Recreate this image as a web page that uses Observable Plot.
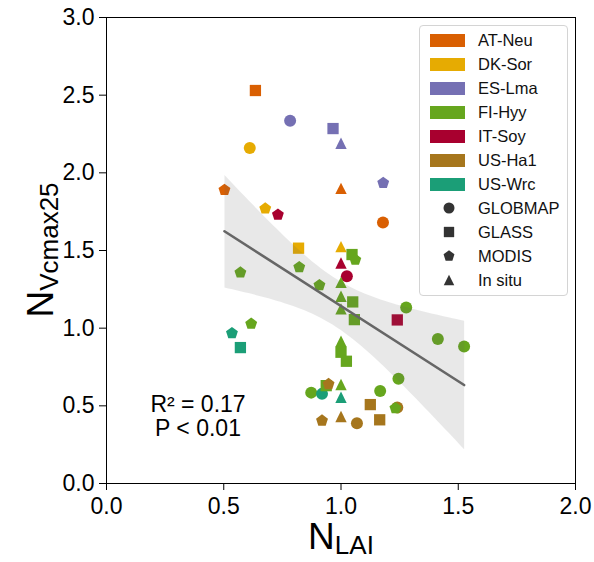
<!DOCTYPE html>
<html><head><meta charset="utf-8">
<script src="https://cdn.jsdelivr.net/npm/d3@7"></script>
<script src="https://cdn.jsdelivr.net/npm/@observablehq/plot@0.6"></script>
<style>
body{margin:0;background:#fff;font-family:"Liberation Sans",Arial,sans-serif;}
#wrap{position:relative;width:594px;height:562px;}
#legend{position:absolute;left:419px;top:25px;width:149px;height:271px;box-sizing:border-box;border:1px solid #d4d4d4;border-radius:4px;background:rgba(255,255,255,0.85);}
.patch{position:absolute;left:10px;width:35px;height:13px;}
.lsym{position:absolute;left:22px;width:14px;height:14px;}
.ltext{position:absolute;left:58px;font-size:16.5px;line-height:18px;color:#111;white-space:nowrap;}
</style></head><body><div id="wrap"><div id="legend"></div></div>
<script>
// ---- data ----
const sites = ["AT-Neu","DK-Sor","ES-Lma","FI-Hyy","IT-Soy","US-Ha1","US-Wrc"];
const siteColors = ["#D95F02","#E6AB02","#7570B3","#66A61E","#A8002F","#A6761D","#1B9E77"];
const products = ["GLOBMAP","GLASS","MODIS","In situ"];
const xTicks = [0, 0.5, 1, 1.5, 2];
const yTicks = [0, 0.5, 1, 1.5, 2, 2.5, 3];
const statLines = ["R\u00B2 = 0.17", "P < 0.01"];

const ptSite = [
  "AT-Neu","AT-Neu","AT-Neu","AT-Neu",
  "DK-Sor","DK-Sor","DK-Sor","DK-Sor",
  "ES-Lma","ES-Lma","ES-Lma","ES-Lma",
  "FI-Hyy","FI-Hyy","FI-Hyy","FI-Hyy","FI-Hyy","FI-Hyy","FI-Hyy","FI-Hyy","FI-Hyy","FI-Hyy","FI-Hyy","FI-Hyy",
  "FI-Hyy","FI-Hyy","FI-Hyy","FI-Hyy","FI-Hyy","FI-Hyy","FI-Hyy","FI-Hyy","FI-Hyy","FI-Hyy","FI-Hyy",
  "IT-Soy","IT-Soy","IT-Soy","IT-Soy",
  "US-Ha1","US-Ha1","US-Ha1","US-Ha1","US-Ha1","US-Ha1","US-Ha1",
  "US-Wrc","US-Wrc","US-Wrc","US-Wrc"
];
const ptProduct = [
  "GLASS","MODIS","In situ","GLOBMAP",
  "GLOBMAP","MODIS","GLASS","In situ",
  "GLOBMAP","GLASS","In situ","MODIS",
  "GLASS","MODIS","MODIS","MODIS","MODIS","In situ","In situ","GLASS","In situ","GLASS","GLOBMAP","MODIS",
  "In situ","GLASS","GLASS","GLOBMAP","GLASS","In situ","GLOBMAP","GLOBMAP","MODIS","GLOBMAP","GLOBMAP",
  "MODIS","In situ","GLOBMAP","GLASS",
  "MODIS","MODIS","In situ","GLOBMAP","GLASS","GLASS","GLOBMAP",
  "MODIS","GLASS","GLOBMAP","In situ"
];
const ptNLAI = [
  0.635,0.503,1.0,1.179,
  0.611,0.677,0.819,1.0,
  0.783,0.966,1.0,1.18,
  1.047,1.061,0.822,0.571,0.908,1.0,1.0,1.05,1.0,1.057,1.278,0.617,
  1.0,1.0,1.023,0.873,0.937,1.0,1.167,1.245,1.232,1.413,1.525,
  0.731,1.0,1.025,1.24,
  0.947,0.919,1.0,1.068,1.125,1.165,1.24,
  0.535,0.571,0.919,1.0
];
const ptNVcmax25 = [
  2.53,1.89,1.90,1.68,
  2.16,1.77,1.515,1.525,
  2.335,2.285,2.19,1.935,
  1.474,1.44,1.392,1.358,1.276,1.295,1.205,1.169,1.124,1.055,1.133,1.028,
  0.916,0.845,0.787,0.585,0.63,0.637,0.596,0.674,0.485,0.931,0.882,
  1.73,1.42,1.334,1.053,
  0.64,0.405,0.431,0.388,0.508,0.41,0.49,
  0.967,0.875,0.577,0.555
];

// ---- marker shapes (matplotlib-like) ----
const symCircle = {draw(c, s){const r = Math.sqrt(s/Math.PI); c.moveTo(r,0); c.arc(0,0,r,0,2*Math.PI); c.closePath();}};
const symSquare = {draw(c, s){const h = Math.sqrt(s/Math.PI)*0.94; c.rect(-h,-h,2*h,2*h);}};
const symTriangle = {draw(c, s){const h = Math.sqrt(s/Math.PI)*0.95; c.moveTo(0,-h); c.lineTo(h,h); c.lineTo(-h,h); c.closePath();}};
const symPentagon = {draw(c, s){const R = Math.sqrt(s/Math.PI)*1.04;
  for (let i=0;i<5;i++){const a=-Math.PI/2+i*2*Math.PI/5; const x=R*Math.cos(a), y=R*Math.sin(a); if(i) c.lineTo(x,y); else c.moveTo(x,y);} c.closePath();}};
const symbolRange = [symCircle, symSquare, symPentagon, symTriangle];

const data = ptNLAI.map((x,i)=>({x, y: ptNVcmax25[i], site: ptSite[i], product: ptProduct[i]}));
const drawOrder = d3.sort(data, d => products.indexOf(d.product));

const plot = Plot.plot({
  width: 594, height: 562,
  marginLeft: 106, marginRight: 19, marginTop: 17, marginBottom: 79,
  style: {fontFamily: "'Liberation Sans', Arial, sans-serif", fontSize: "23px", color: "#000", background: "white"},
  x: {domain: [0, 2], ticks: xTicks, tickFormat: d3.format(".1f"), label: null, tickSize: 7, tickPadding: 7},
  y: {domain: [0, 3], ticks: yTicks, tickFormat: d3.format(".1f"), label: null, tickSize: 7, tickPadding: 5},
  color: {domain: sites, range: siteColors},
  symbol: {domain: products, range: symbolRange},
  marks: [
    Plot.dot(drawOrder, {x: "x", y: "y", fill: "site", symbol: "product", r: 6}),
    Plot.linearRegressionY(data, {x: "x", y: "y", stroke: "#666", strokeWidth: 2.6, fill: "#666", fillOpacity: 0.15, ci: 0.95}),
    Plot.frame({stroke: "#000", strokeWidth: 1})
  ]
});

const svg = d3.select(plot);
const xl = svg.append("text").attr("x", 341).attr("y", 549).attr("text-anchor", "middle").attr("fill", "#000");
xl.append("tspan").attr("font-size", 37).text("N");
xl.append("tspan").attr("font-size", 26).attr("dy", 5).text("LAI");
const yl = svg.append("text").attr("transform", "translate(53,250) rotate(-90)").attr("text-anchor", "middle").attr("fill", "#000");
yl.append("tspan").attr("font-size", 37).text("N");
yl.append("tspan").attr("font-size", 26).attr("dy", 5).text("Vcmax25");
statLines.forEach((t, i) => {
  svg.append("text").attr("x", 198).attr("y", 412 + i*24).attr("text-anchor", "middle")
    .attr("font-size", 23).attr("fill", "#000").text(t);
});

const wrap = document.getElementById("wrap");
wrap.insertBefore(plot, wrap.firstChild);

// ---- legend ----
const legend = document.getElementById("legend");
const symPath = (sym, r) => { const p = d3.path(); sym.draw(p, Math.PI*r*r); return p.toString(); };
sites.forEach((s, i) => {
  const cy = 14 + i*24;
  const patch = document.createElement("div");
  patch.className = "patch"; patch.style.top = (cy - 6.5) + "px"; patch.style.background = siteColors[i];
  legend.appendChild(patch);
  const t = document.createElement("div");
  t.className = "ltext"; t.style.top = (cy - 9) + "px"; t.textContent = s;
  legend.appendChild(t);
});
products.forEach((p, j) => {
  const cy = 14 + (sites.length + j)*24;
  const d = document.createElementNS("http://www.w3.org/2000/svg", "svg");
  d.setAttribute("class", "lsym"); d.setAttribute("width", 14); d.setAttribute("height", 14);
  d.setAttribute("viewBox", "-7 -7 14 14"); d.style.top = (cy - 7) + "px";
  const path = document.createElementNS("http://www.w3.org/2000/svg", "path");
  path.setAttribute("d", symPath(symbolRange[j], 5.5)); path.setAttribute("fill", "#333");
  d.appendChild(path); legend.appendChild(d);
  const t = document.createElement("div");
  t.className = "ltext"; t.style.top = (cy - 9) + "px"; t.textContent = p;
  legend.appendChild(t);
});
</script></body></html>
